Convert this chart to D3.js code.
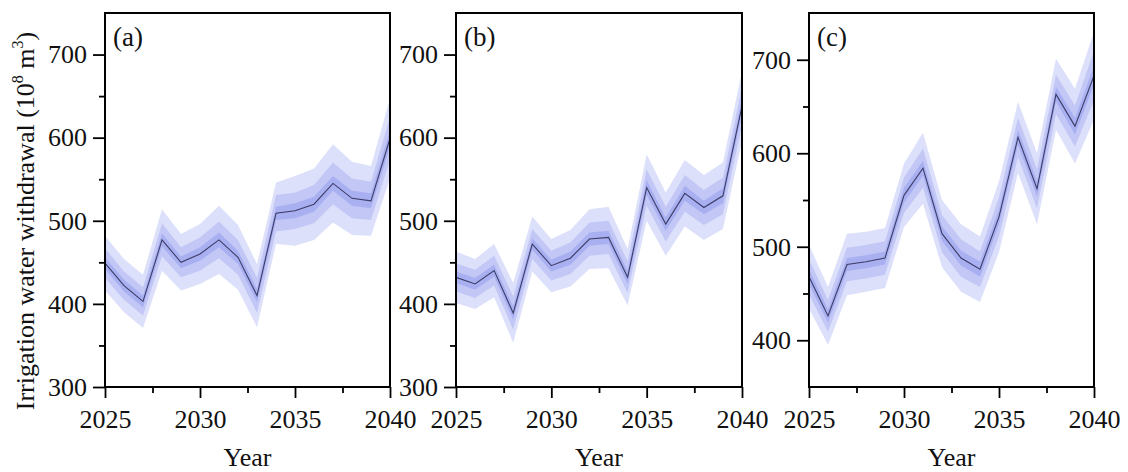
<!DOCTYPE html>
<html lang="en">
<head>
<meta charset="utf-8">
<title>Irrigation water withdrawal</title>
<script src="https://cdn.jsdelivr.net/npm/d3@7"></script>
<style>
  body { margin: 0; background: #fff; }
  svg text { font-family: "Liberation Serif", "Times New Roman", serif; fill: #111; }
</style>
</head>
<body>
<svg width="1128" height="472" font-family="Liberation Serif, serif"></svg>
<script>
// years on the x axis
var years = [2025, 2026, 2027, 2028, 2029, 2030, 2031, 2032, 2033, 2034, 2035, 2036, 2037, 2038, 2039, 2040];

// (a) median line and half-widths of the three shaded bands
var midA   = [449, 422, 403, 477, 450, 460, 477, 456, 410, 509, 512, 520, 545, 527, 524, 599];
var outerA = [33, 32, 32, 37, 34, 36, 41, 39, 38, 37, 42, 43, 47, 44, 42, 48];
var bandA  = [18, 17, 17, 20, 18, 20, 22, 21, 21, 22, 22, 23, 25, 24, 23, 26];
var innerA = [7, 7, 7, 8, 7, 8, 9, 8, 8, 8, 9, 9, 9, 9, 9, 10];

// (b)
var midB   = [432, 424, 440, 389, 472, 446, 455, 478, 480, 432, 540, 496, 533, 516, 530, 638];
var outerB = [31, 30, 32, 36, 33, 32, 34, 36, 37, 34, 40, 38, 40, 39, 40, 42];
var bandB  = [17, 17, 18, 20, 18, 18, 19, 20, 20, 19, 22, 21, 22, 21, 22, 23];
var innerB = [7, 7, 7, 8, 7, 7, 8, 8, 8, 8, 9, 8, 9, 8, 9, 9];

// (c)
var midC   = [468, 426, 481, 484, 488, 555, 584, 514, 488, 476, 532, 617, 562, 663, 629, 683];
var outerC = [34, 31, 33, 32, 32, 34, 38, 36, 36, 35, 38, 38, 38, 38, 40, 47];
var bandC  = [19, 17, 18, 18, 18, 19, 21, 20, 20, 19, 21, 21, 21, 21, 22, 26];
var innerC = [8, 7, 7, 7, 7, 8, 8, 8, 8, 8, 8, 8, 8, 8, 9, 10];

// axis ticks
var xMajor = [2025, 2030, 2035, 2040];
var xMinor = [2027.5, 2032.5, 2037.5];
var yMajorAB = [300, 400, 500, 600, 700];
var yMinorAB = [350, 450, 550, 650];
var yMajorC = [400, 500, 600, 700];
var yMinorC = [450, 550, 650];

var panels = [
    {tag: '(a)', mid: midA, bands: [outerA, bandA, innerA], domain: [300, 750], major: yMajorAB, minor: yMinorAB, left: 105, right: 390},
    {tag: '(b)', mid: midB, bands: [outerB, bandB, innerB], domain: [300, 750], major: yMajorAB, minor: yMinorAB, left: 456, right: 742},
    {tag: '(c)', mid: midC, bands: [outerC, bandC, innerC], domain: [350, 750], major: yMajorC, minor: yMinorC, left: 809, right: 1094}
];
var bandColors = ['#dde0fa', '#c2c7f6', '#a9b0f1'];
var plotTop = 13, plotBottom = 387;

var svg = d3.select('svg');

panels.forEach(function(p, k){
    var x = d3.scaleLinear().domain([2025, 2040]).range([p.left, p.right]);
    var y = d3.scaleLinear().domain(p.domain).range([plotBottom, plotTop]);
    var g = svg.append('g');

    g.append('clipPath').attr('id', 'clip' + k)
        .append('rect')
        .attr('x', p.left).attr('y', plotTop)
        .attr('width', p.right - p.left).attr('height', plotBottom - plotTop);

    var plot = g.append('g').attr('clip-path', 'url(#clip' + k + ')');

    p.bands.forEach(function(w, j){
        var area = d3.area()
            .x((d, i) => x(years[i]))
            .y0((d, i) => y(d - w[i]))
            .y1((d, i) => y(d + w[i]));
        plot.append('path')
            .datum(p.mid)
            .attr('d', area)
            .attr('fill', bandColors[j]);
    });

    plot.append('path')
        .datum(p.mid)
        .attr('d', d3.line().x((d, i) => x(years[i])).y(d => y(d)))
        .attr('fill', 'none')
        .attr('stroke', '#3c3c66')
        .attr('stroke-width', 1.1);

    // x axis
    g.append('g').attr('transform', 'translate(0,' + plotBottom + ')')
        .call(d3.axisBottom(x).tickValues(xMajor).tickSize(11).tickPadding(12).tickFormat(d3.format('d')));
    g.append('g').attr('transform', 'translate(0,' + plotBottom + ')')
        .call(d3.axisBottom(x).tickValues(xMinor).tickSize(6).tickFormat(''));

    // y axis
    g.append('g').attr('transform', 'translate(' + p.left + ',0)')
        .call(d3.axisLeft(y).tickValues(p.major).tickSize(12).tickPadding(6));
    g.append('g').attr('transform', 'translate(' + p.left + ',0)')
        .call(d3.axisLeft(y).tickValues(p.minor).tickSize(6).tickFormat(''));

    g.selectAll('.domain').remove();
    g.selectAll('.tick line').attr('stroke', '#000').attr('stroke-width', 1.8);
    g.selectAll('.tick text').attr('font-size', 26).attr('fill', '#111')
        .attr('font-family', 'Liberation Serif, serif');

    // frame
    g.append('rect')
        .attr('x', p.left).attr('y', plotTop)
        .attr('width', p.right - p.left).attr('height', plotBottom - plotTop)
        .attr('fill', 'none').attr('stroke', '#000').attr('stroke-width', 2);

    g.append('text')
        .attr('x', p.left + 8).attr('y', 46)
        .attr('font-size', 27)
        .text(p.tag);

    g.append('text')
        .attr('x', (p.left + p.right) / 2).attr('y', 466)
        .attr('text-anchor', 'middle')
        .attr('font-size', 26)
        .text('Year');
});

// y title
var yt = svg.append('text')
    .attr('transform', 'translate(34,221) rotate(-90)')
    .attr('text-anchor', 'middle')
    .attr('font-size', 26);
yt.append('tspan').text('Irrigation water withdrawal (10');
yt.append('tspan').attr('font-size', 16).attr('dy', -11).text('8');
yt.append('tspan').attr('dy', 11).text(' m');
yt.append('tspan').attr('font-size', 16).attr('dy', -11).text('3');
yt.append('tspan').attr('dy', 11).text(')');
</script>
</body>
</html>
